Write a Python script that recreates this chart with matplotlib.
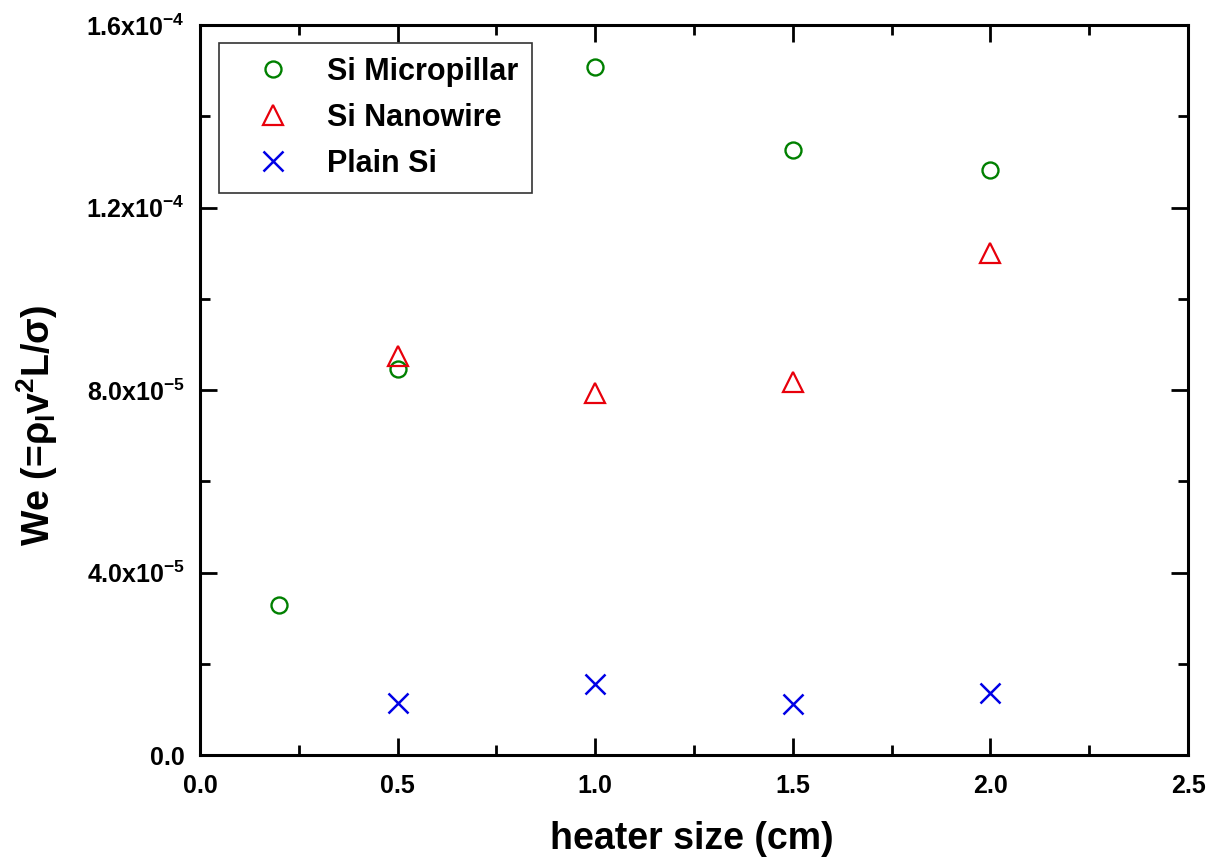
# Weber number vs heater size for three surfaces
from matplotlib import pyplot as plt
from matplotlib.ticker import FuncFormatter, MultipleLocator

plt.rcParams['font.family'] = ['Liberation Sans', 'DejaVu Sans']
plt.rcParams['font.weight'] = 'bold'
plt.rcParams['mathtext.fontset'] = 'custom'
plt.rcParams['mathtext.rm'] = 'Liberation Sans:bold'
plt.rcParams['mathtext.it'] = 'Liberation Sans:bold'
plt.rcParams['mathtext.bf'] = 'Liberation Sans:bold'

# data
micropillar_x = [0.2, 0.5, 1.0, 1.5, 2.0]
micropillar_y = [3.29e-5, 8.46e-5, 15.07e-5, 13.27e-5, 12.83e-5]
nanowire_x = [0.5, 1.0, 1.5, 2.0]
nanowire_y = [8.75e-5, 7.94e-5, 8.18e-5, 11.0e-5]
plain_x = [0.5, 1.0, 1.5, 2.0]
plain_y = [1.14e-5, 1.56e-5, 1.12e-5, 1.36e-5]
labels = ['Si Micropillar', 'Si Nanowire', 'Plain Si']


def sci_label(v, pos):
    if abs(v) < 1e-12:
        return '0.0'
    exp = 0
    m = v
    while abs(m) < 1:
        m *= 10
        exp -= 1
    return '%.1fx10$^{%d}$' % (m, exp)


fig = plt.figure(figsize=(12.16, 8.63), dpi=100)
ax = fig.add_axes([0.1645, 0.1251, 0.8125, 0.8459])

ax.plot(micropillar_x, micropillar_y, 'o', ms=11.5, mfc='none', mec='#008000',
        mew=1.7, label=labels[0])
ax.plot(nanowire_x, nanowire_y, '^', ms=14, mfc='none', mec='#e8000b',
        mew=1.6, label=labels[1])
ax.plot(plain_x, plain_y, 'x', ms=15, color='#0000e6', mew=1.8, label=labels[2])

ax.set_xlim(0, 2.5)
ax.set_ylim(0, 1.6e-4)
ax.xaxis.set_major_locator(MultipleLocator(0.5))
ax.xaxis.set_minor_locator(MultipleLocator(0.25))
ax.yaxis.set_major_locator(MultipleLocator(4e-5))
ax.yaxis.set_minor_locator(MultipleLocator(2e-5))
ax.yaxis.set_major_formatter(FuncFormatter(sci_label))
ax.xaxis.set_major_formatter(FuncFormatter(lambda v, p: '%.1f' % v))

ax.tick_params(which='both', direction='in', top=True, right=True,
               width=2, labelsize=18)
ax.tick_params(which='major', length=12)
ax.tick_params(which='minor', length=7)
ax.tick_params(axis='x', which='major', pad=14)
ax.tick_params(axis='y', which='major', pad=11)
for sp in ax.spines.values():
    sp.set_linewidth(2.2)

ax.set_xlabel('heater size (cm)', fontsize=27, fontweight='bold')
ax.xaxis.set_label_coords(0.498, -0.09)
ax.set_ylabel(r'We (=$\rho_l$v$^2$L/$\sigma$)', fontsize=27, fontweight='bold')
ax.yaxis.set_label_coords(-0.142, 0.452)

leg = ax.legend(loc='upper left', bbox_to_anchor=(0.0192, 0.975),
                borderaxespad=0, fontsize=22, fancybox=False,
                handletextpad=0.45, borderpad=0.45, labelspacing=0.52,
                handlelength=2.63)
leg.get_frame().set_edgecolor('#333333')
leg.get_frame().set_linewidth(1.2)
leg.get_frame().set_alpha(1)

plt.savefig('out.png', dpi=100)
plt.close()
